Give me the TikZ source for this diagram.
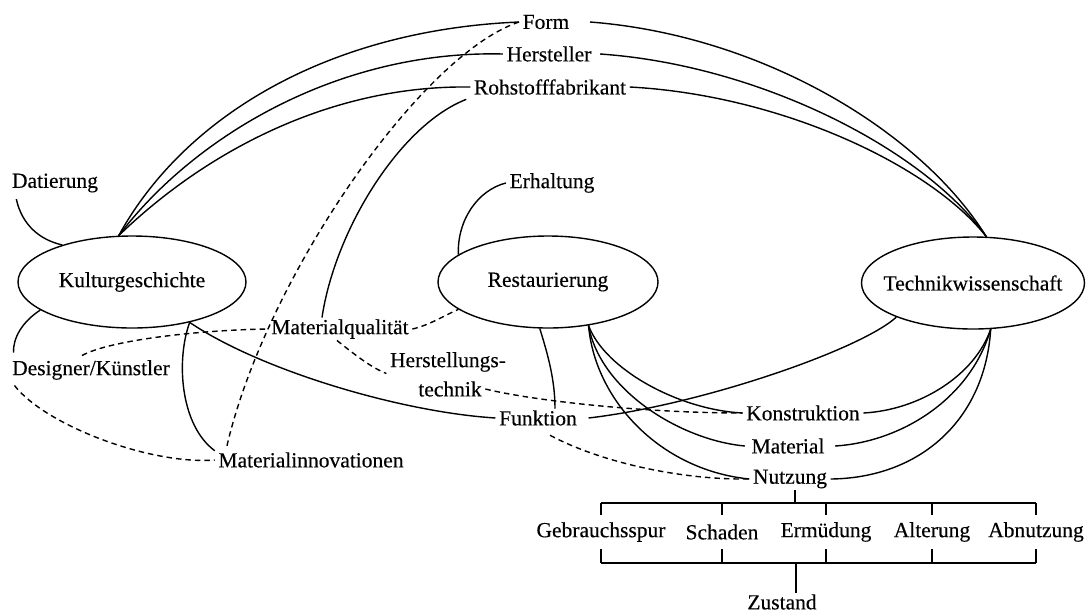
\documentclass[tikz,border=0pt]{standalone}
\usepackage{fontspec}
\setmainfont{Liberation Serif}[FakeBold=0.3]
\usetikzlibrary{shapes.geometric}
\begin{document}
\begin{tikzpicture}[x=1pt,y=1pt,line width=1.4pt,
  font=\fontsize{21.5}{25}\selectfont,
  ell/.style={draw,ellipse,inner sep=0pt,minimum height=92pt},
  lbl/.style={inner xsep=3pt,inner ysep=1pt},
  dsh/.style={dash pattern=on 5.5pt off 4pt}]
\useasboundingbox (0,0) rectangle (1087,-614);
% main ellipses
\node[ell,minimum width=228pt] (kult) at (132,-282) {};
\node[lbl] (kultT) at (kult) {Kulturgeschichte};
\node[ell,minimum width=220pt] (rest) at (548,-282) {};
\node[lbl] (restT) at (rest) {Restaurierung};
\node[ell,minimum width=223pt] (tech) at (973,-283) {};
\node[lbl] (techT) at (tech) {Technikwissenschaft};
% labels
\node[lbl] (form)  at (546,-22) {Form};
\node[lbl] (herst) at (549,-54) {Hersteller};
\node[lbl] (rohst) at (550,-87) {Rohstofffabrikant};
\node[lbl] (dat)   at (55,-183) {Datierung};
\node[lbl] (erh)   at (552,-183) {Erhaltung};
\node[lbl] (des)   at (91,-370) {Designer/Künstler};
\node[lbl] (mq)    at (340,-329) {Materialqualität};
\node[lbl] (hs1)   at (448,-362) {Herstellungs-};
\node[lbl] (hs2)   at (450,-389) {technik};
\node[lbl] (funk)  at (538,-418) {Funktion};
\node[lbl] (mi)    at (311,-460) {Materialinnovationen};
\node[lbl] (kons)  at (803,-413) {Konstruktion};
\node[lbl] (mat)   at (788,-446) {Material};
\node[lbl] (nutz)  at (790,-479) {Nutzung};
\node[lbl] (gebr)  at (601,-532) {Gebrauchsspur};
\node[lbl] (schad) at (722,-532) {Schaden};
\node[lbl] (ermue) at (826,-532) {Ermüdung};
\node[lbl] (alter) at (932,-532) {Alterung};
\node[lbl] (abn)   at (1036,-532) {Abnutzung};
\node[lbl] (zust)  at (782,-602) {Zustand};
% Datierung, Erhaltung
\draw ([xshift=8pt,yshift=-5pt]dat.south west) .. controls (22,-225) and (40,-240) .. (kult.152);
\draw (erh.west) .. controls (478,-190) and (457,-220) .. (rest.163);
% Kulturgeschichte to top labels
\draw (kult.106) .. controls (185,-115) and (330,-30) .. (form.west);
\draw (kult.106) .. controls (195,-135) and (340,-50) .. (herst.west);
\draw (kult.106) .. controls (205,-152) and (330,-85) .. (rohst.west);
% top labels to Technikwissenschaft
\draw ([xshift=17pt]form.east) .. controls (760,-35) and (920,-130) .. (tech.74);
\draw ([xshift=5pt]herst.east) .. controls (760,-65) and (925,-150) .. (tech.74);
\draw (rohst.east) .. controls (780,-95) and (930,-165) .. (tech.74);
% Rohstofffabrikant to Materialqualitaet
\draw ([xshift=-4pt,yshift=-3pt]rohst.south west) .. controls (400,-125) and (335,-230) .. ([xshift=-18pt]mq.north);
% Form dashed to Materialinnovationen
\draw[dsh] (form.west) .. controls (420,-55) and (265,-280) .. ([xshift=12pt,yshift=4pt]mi.north west);
% Kulturgeschichte lower lines
\draw (kult.-35) .. controls (176,-360) and (180,-425) .. (mi.north west);
\draw (kult.-35) .. controls (260,-370) and (400,-412) .. (funk.west);
\draw (kult.197) .. controls (22,-322) and (13,-338) .. ([xshift=5pt,yshift=6pt]des.north west);
% Designer dashed
\draw[dsh] ([xshift=-9pt,yshift=3pt]des.north) .. controls (110,-340) and (200,-330) .. (mq.west);
\draw[dsh] ([xshift=6pt,yshift=-4pt]des.south west) .. controls (45,-425) and (150,-465) .. (mi.west);
% Materialqualitaet dashed
\draw[dsh] (mq.east) .. controls (430,-325) and (445,-315) .. (rest.197);
\draw[dsh] ([xshift=-3pt]mq.south) .. controls (355,-355) and (372,-368) .. (hs1.south west);
\draw[dsh] (hs2.east) .. controls (530,-400) and (640,-413) .. (kons.west);
% Restaurierung lower lines
\draw (rest.-100) .. controls (548,-355) and (555,-380) .. ([xshift=17pt]funk.north);
\draw (rest.-47) .. controls (605,-370) and (680,-410) .. (kons.west);
\draw (rest.-47) .. controls (600,-390) and (680,-440) .. ([xshift=-3pt]mat.west);
\draw (rest.-47) .. controls (595,-400) and (660,-470) .. (nutz.west);
% Technikwissenschaft lower lines
\draw (tech.-69) .. controls (975,-375) and (920,-410) .. (kons.east);
\draw (tech.-69) .. controls (970,-400) and (900,-442) .. ([xshift=7pt]mat.east);
\draw (tech.-69) .. controls (985,-420) and (920,-478) .. (nutz.east);
\draw (tech.204) .. controls (860,-350) and (700,-405) .. ([xshift=8pt]funk.east);
% Funktion dashed to Nutzung
\draw[dsh] ([xshift=12pt,yshift=-8pt]funk.south) .. controls (600,-462) and (680,-480) .. (nutz.west);
% brackets
\coordinate (bt) at (0,-503);
\coordinate (tt) at (0,-515);
\coordinate (tb) at (0,-549);
\coordinate (bb) at (0,-563);
\coordinate (ns) at ([xshift=5pt]nutz.south);
\coordinate (zs) at ([xshift=14pt]zust.north);
\draw (ns) -- (ns |- bt);
\draw (gebr.north |- bt) -- (abn.north |- bt);
\draw (gebr.south |- bb) -- (abn.south |- bb);
\foreach \n in {gebr,schad,ermue,alter,abn}{
  \draw (\n.north |- bt) -- (\n.north |- tt);
  \draw (\n.south |- tb) -- (\n.south |- bb);
}
\draw (zs |- bb) -- (zs);
\end{tikzpicture}
\end{document}
